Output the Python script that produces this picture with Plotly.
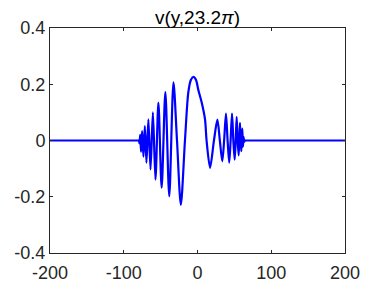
import plotly.graph_objects as go

# Curve samples (extrema and zero crossings)
y_pos = [-200, -100, -85, -80.5, -79.5, -78.6, -77.7, -76.6, -75.1, -73.3, -71.4, -69.2, -66.6,
         -63.7, -60.5, -57.0, -53.0, -48.6, -43.6, -38.3, -32.6, -27.8, -22.6, -17.0,
         -12.5, -9.0, -5.5, -2.0, 1.1, 5.7, 10.2, 12.3, 17.0, 22.3, 27.0, 30.3, 33.6,
         36.1, 38.6, 40.8, 43.0, 44.9, 46.8, 48.6, 50.4, 51.8, 53.1, 54.4, 55.8, 56.7,
         57.6, 58.5, 59.4, 60.1, 60.8, 61.6, 62.4, 63.2, 64.3, 65.5, 70, 100, 200]
v_val = [0, 0, 0, 0, 0, -0.010, 0.020, -0.040, 0.033, -0.057, 0.051, -0.079, 0.075,
         -0.103, 0.100, -0.139, 0.135, -0.168, 0.172, -0.198, 0.207, 0, -0.229, 0,
         0.17, 0.215, 0.226, 0.215, 0.18, 0.135, 0.075, 0, -0.097, 0, 0.074, 0, -0.074,
         0, 0.096, 0, -0.079, 0, 0.096, 0, -0.068, 0, 0.084, 0, -0.053, 0,
         0.063, 0, -0.038, 0, 0.042, -0.022, 0.013, -0.005, 0, 0, 0, 0, 0]

x_ticks = [-200, -100, 0, 100, 200]
x_labels = ["-200", "-100", "0", "100", "200"]
y_ticks = [-0.4, -0.2, 0, 0.2, 0.4]
y_labels = ["-0.4", "-0.2", "0", "0.2", "0.4"]
title_text = "v(y,23.2<i>π</i>)"

FONT = "Liberation Sans, Arial, Helvetica"

fig = go.Figure()
fig.add_trace(go.Scatter(x=y_pos, y=v_val, mode="lines",
                         line=dict(color="#0000ff", width=2.2, shape="spline", smoothing=0.8),
                         showlegend=False, hoverinfo="skip"))

axis_common = dict(showgrid=False, zeroline=False, showline=True, mirror="ticks",
                   linecolor="#262626", linewidth=1, ticks="inside", ticklen=3,
                   tickcolor="#262626", automargin=False,
                   tickfont=dict(family=FONT, size=18, color="#262626"))

fig.update_layout(
    width=374, height=278,
    margin=dict(l=42, r=37, t=20, b=33),
    paper_bgcolor="white", plot_bgcolor="white",
    title=dict(text=title_text, x=0.5, xanchor="center", xref="paper",
               y=1 - 9.5 / 278, yref="container", yanchor="middle",
               font=dict(family=FONT, size=19, color="#000000")),
    xaxis=dict(range=[-200, 200], tickvals=x_ticks, ticktext=x_labels,
               ticklabelstandoff=3, **axis_common),
    yaxis=dict(range=[-0.4, 0.4], tickvals=y_ticks, ticktext=y_labels, **axis_common),
)

fig.write_html("out.html")
